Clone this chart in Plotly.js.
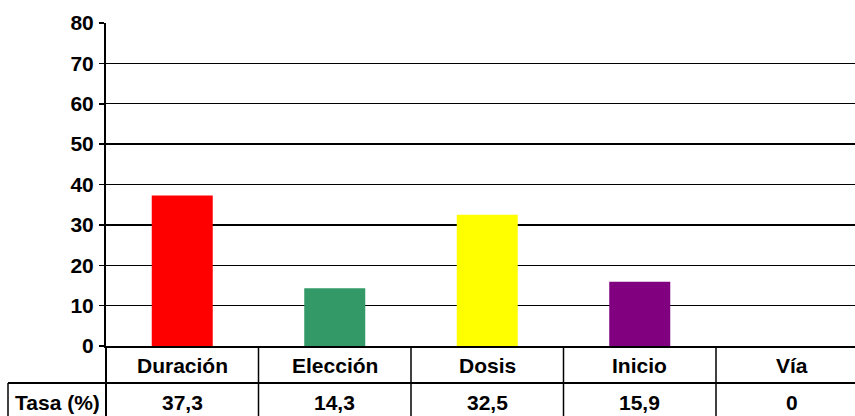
<!DOCTYPE html>
<html>
<head>
<meta charset="utf-8">
<script src="https://cdn.plot.ly/plotly-3.0.1.min.js"></script>
<style>html,body{margin:0;padding:0;background:#fff;}#chart{width:855px;height:416px;}</style>
</head>
<body>
<div id="chart"></div>
<script>
const categories = ["Duración", "Elección", "Dosis", "Inicio", "Vía"];
const values = [37.3, 14.3, 32.5, 15.9, 0];
const valueLabels = ["37,3", "14,3", "32,5", "15,9", "0"];
const barColors = ["#FF0000", "#339966", "#FFFF00", "#800080", "#3366CC"];
const rowLabel = "Tasa (%)";
const yTicks = [0, 10, 20, 30, 40, 50, 60, 70, 80];

const idx = categories.map((c, i) => i);
const font = {family: "Liberation Sans, Arial, sans-serif", size: 21, color: "#000", weight: "bold"};

// table geometry in paper coords (plot area: x 106..855, y 23..346)
const row1Bottom = -37 / 323;   // y=383
const tableBottom = -0.3;
const leftCell = -98 / 749;     // x=8

const shapes = [];
for (let i = 0; i < categories.length - 1; i++) {
  shapes.push({type: "line", xref: "x", yref: "paper", x0: i + 0.5, x1: i + 0.5, y0: 0, y1: tableBottom,
    line: {color: "#000", width: 1.5}});
}
shapes.push({type: "line", xref: "paper", yref: "paper", x0: 0, x1: 0, y0: 0, y1: tableBottom, line: {color: "#000", width: 2}});
shapes.push({type: "line", xref: "paper", yref: "paper", x0: leftCell, x1: 1.01, y0: row1Bottom, y1: row1Bottom, line: {color: "#000", width: 2}});
shapes.push({type: "line", xref: "paper", yref: "paper", x0: leftCell, x1: leftCell, y0: row1Bottom, y1: tableBottom, line: {color: "#000", width: 1.5}});

const annotations = [];
categories.forEach((c, i) => {
  annotations.push({x: i, y: -19 / 323, xref: "x", yref: "paper", text: c, showarrow: false, font: font, yanchor: "middle", xanchor: "center"});
  annotations.push({x: i, y: -56 / 323, xref: "x", yref: "paper", text: valueLabels[i], showarrow: false, font: font, yanchor: "middle", xanchor: "center"});
});
annotations.push({x: -49 / 749, y: -56 / 323, xref: "paper", yref: "paper", text: rowLabel, showarrow: false, font: font, yanchor: "middle", xanchor: "center"});

const trace = {
  type: "bar",
  x: idx,
  y: values,
  width: 0.4,
  marker: {color: barColors, line: {width: 0}},
  hoverinfo: "none"
};

const layout = {
  width: 855, height: 416,
  margin: {l: 106, r: 0, t: 23, b: 70, pad: 0},
  paper_bgcolor: "#fff", plot_bgcolor: "#fff",
  showlegend: false,
  xaxis: {
    range: [-0.5, -0.5 + 749 / 152.5],
    showticklabels: false, ticks: "", showgrid: false, zeroline: false,
    showline: true, linecolor: "#000", linewidth: 2, fixedrange: true
  },
  yaxis: {
    range: [0, 80], tickvals: yTicks, ticktext: yTicks.map(String),
    ticks: "outside", ticklen: 5, tickwidth: 1.5, tickcolor: "#000",
    showgrid: true, gridcolor: "#000", gridwidth: 1.4, zeroline: false,
    showline: true, linecolor: "#000", linewidth: 2,
    tickfont: font, ticklabelstandoff: 1, fixedrange: true
  },
  shapes: shapes,
  annotations: annotations
};

Plotly.newPlot("chart", [trace], layout, {displayModeBar: false, staticPlot: true});
</script>
</body>
</html>
